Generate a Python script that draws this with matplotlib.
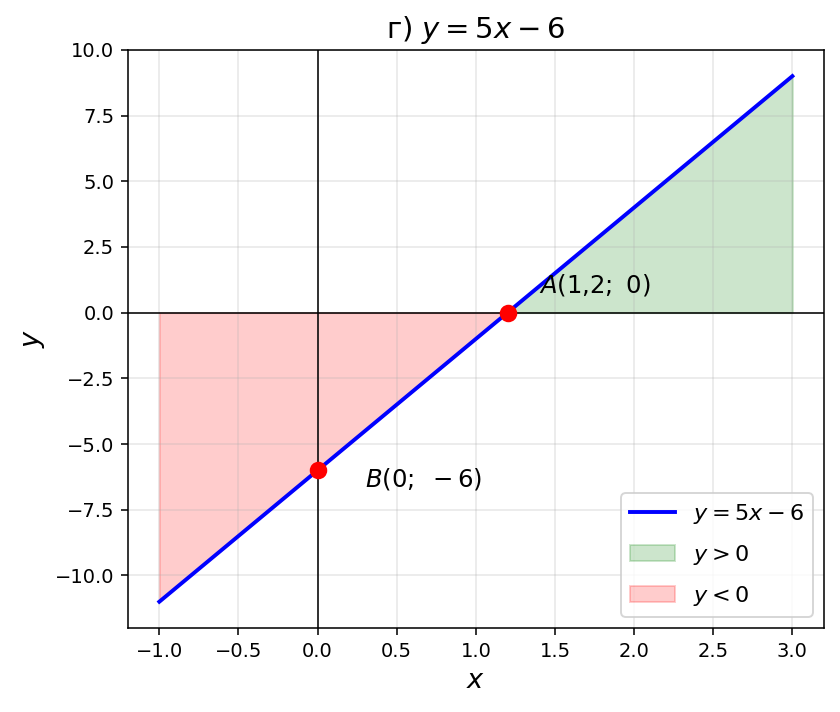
import numpy as np
import matplotlib.pyplot as plt

# line y = 5x - 6 on [-1, 3]
k = 5
b = -6
x_start = -1.0
x_end = 3.0
x_root = 1.2

xs = np.linspace(x_start, x_end, 400)
ys = k * xs + b

fig, ax = plt.subplots(figsize=(6, 712 / 140), dpi=140)

ax.plot(xs, ys, color="blue", lw=2, label=r"$y = 5x - 6$")
ax.fill_between(xs, ys, 0, where=xs >= x_root, color="green", alpha=0.2,
                label=r"$y > 0$")
ax.fill_between(xs, ys, 0, where=xs <= x_root, color="red", alpha=0.2,
                label=r"$y < 0$")

ax.axhline(0, color="black", lw=0.8)
ax.axvline(0, color="black", lw=0.8)

ax.plot([x_root], [0], "ro", ms=8)
ax.plot([0], [b], "ro", ms=8)
ax.text(1.4, 0.75, r"$A(1{,}2;\ 0)$", fontsize=12.5)
ax.text(0.3, -6.6, r"$B(0;\ -6)$", fontsize=12.5)

ax.set_xlim(-1.2, 3.2)
ax.set_ylim(-12, 10)
ax.grid(True, alpha=0.3)
ax.set_xlabel(r"$x$", fontsize=14)
ax.set_ylabel(r"$y$", fontsize=14)
ax.set_title(r"г) $y = 5x - 6$", fontsize=15)
ax.legend(loc="lower right", fontsize=11.5, labelspacing=0.75)

fig.subplots_adjust(left=0.152, right=0.981, top=0.930, bottom=0.118)
fig.savefig("out.png", dpi=140)
